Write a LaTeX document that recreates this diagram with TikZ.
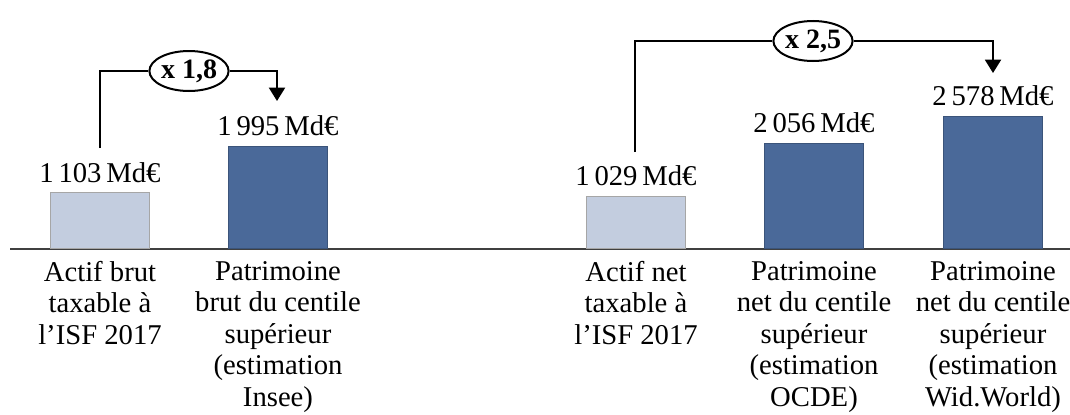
\documentclass[tikz,border=0pt]{standalone}
\usepackage{fontspec}
\setmainfont{Liberation Serif}
\usetikzlibrary{arrows.meta,shapes.geometric}
\definecolor{barlight}{HTML}{C3CDDF}
\definecolor{bardark}{HTML}{4A6999}
\definecolor{axisgray}{HTML}{404040}
\tikzset{
  barbase/.style={draw=gray!70, line width=0.4pt, anchor=south, minimum width=74.25pt, inner sep=0pt},
  lightbar/.style={barbase, fill=barlight},
  darkbar/.style={barbase, fill=bardark, draw=bardark!80!black},
  vallabel/.style={anchor=base, font=\fontsize{21.5}{22}\selectfont, inner sep=0pt},
  catlabel/.style={anchor=north, align=center, font=\fontsize{21.5}{23.6}\selectfont, inner sep=0pt},
  factor/.style={draw, ellipse, line width=1.5pt, minimum width=58pt, minimum height=30pt, inner sep=0pt, font=\fontsize{21}{22}\selectfont\bfseries, fill=white},
  link/.style={line width=1.5pt, line join=miter},
  linkarrow/.style={link, -{Triangle[width=12pt,length=10pt]}}
}
\begin{document}
\begin{tikzpicture}[x=0.75pt,y=-0.75pt]
\useasboundingbox (0,0) rectangle (1070,414);
% axis
\coordinate (axl) at (10,249);
\coordinate (axr) at (1070,249);
\draw[axisgray, line width=1.5pt] (axl) -- (axr);
% bars
\node[lightbar, minimum height=42pt] (b1) at (100,249) {};
\node[darkbar, minimum height=76.5pt] (b2) at (278,249) {};
\node[lightbar, minimum height=39pt] (b3) at (636,249) {};
\node[darkbar, minimum height=78.75pt] (b4) at (814,249) {};
\node[darkbar, minimum height=99pt] (b5) at (993,249) {};
% value labels
\node[vallabel] (v1) at (100,182) {1\,103\,Md€};
\node[vallabel] (v2) at (278,135) {1\,995\,Md€};
\node[vallabel] (v3) at (636,185) {1\,029\,Md€};
\node[vallabel] (v4) at (814,132) {2\,056\,Md€};
\node[vallabel] (v5) at (993,105) {2\,578\,Md€};
% category labels
\node[catlabel] (t1) at (100,261) {Actif brut\\taxable à\\l’ISF 2017};
\node[catlabel] (t2) at (278,261) {Patrimoine\\brut du centile\\supérieur\\(estimation\\Insee)};
\node[catlabel] (t3) at (636,261) {Actif net\\taxable à\\l’ISF 2017};
\node[catlabel] (t4) at (814,261) {Patrimoine\\net du centile\\supérieur\\(estimation\\OCDE)};
\node[catlabel] (t5) at (993,261) {Patrimoine\\net du centile\\supérieur\\(estimation\\Wid.World)};
% factors
\node[factor] (e1) at (189,71) {x 1,8};
\node[factor] (e2) at (813,41) {x 2,5};
\coordinate (c1) at (100,148);
\coordinate (c2) at (277,101);
\coordinate (c3) at (635,152);
\coordinate (c4) at (993,73);
\draw[link] (c1) |- (e1.west);
\draw[linkarrow] (e1.east) -| (c2);
\draw[link] (c3) |- (e2.west);
\draw[linkarrow] (e2.east) -| (c4);
\end{tikzpicture}
\end{document}
